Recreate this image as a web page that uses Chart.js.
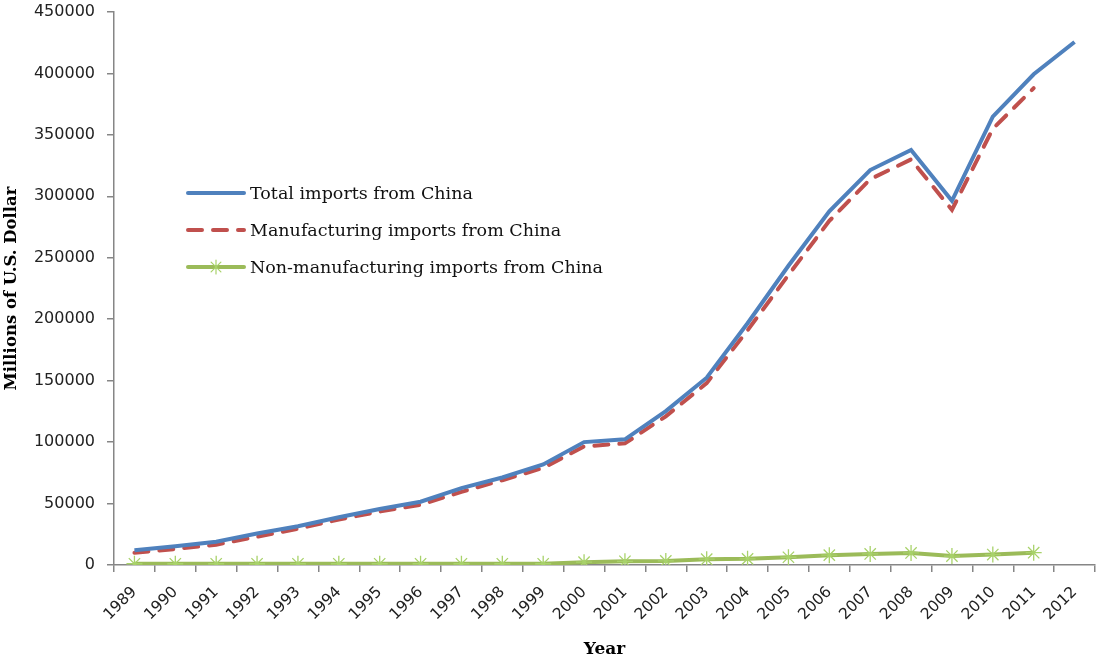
<!DOCTYPE html>
<html>
<head>
<meta charset="utf-8">
<script src="https://cdn.jsdelivr.net/npm/chart.js@4/dist/chart.umd.min.js"></script>
<style>
  html, body { margin: 0; padding: 0; background: #fff; }
  #wrap { width: 1099px; height: 660px; }
</style>
</head>
<body>
<div id="wrap"><canvas id="myChart"></canvas></div>
<script>
var years = ["1989","1990","1991","1992","1993","1994","1995","1996","1997","1998","1999","2000",
             "2001","2002","2003","2004","2005","2006","2007","2008","2009","2010","2011","2012"];

var totalImports = [12000, 15200, 19000, 25700, 31500, 38800, 45500, 51500, 62600, 71200, 81800, 100000,
                    102300, 125200, 152400, 196700, 243500, 287800, 321400, 337800, 296400, 364900, 399300, 425600];

var mfgImports = [10000, 13000, 16500, 23000, 29500, 37000, 43500, 49000, 59500, 69000, 79000, 96500,
                  99000, 121000, 148000, 191000, 236000, 280000, 314000, 330000, 289000, 355000, 388000, null];

var nonMfgImports = [1000, 1000, 1000, 1000, 1000, 1000, 1000, 1000, 1000, 1000, 1000, 2300,
                     3000, 3300, 4700, 5000, 6300, 8000, 9000, 9800, 7300, 8500, 10000, null];

var seriesNames = ["Total imports from China", "Manufacturing imports from China", "Non-manufacturing imports from China"];

// legend drawn inside the plot, left side
var insideLegend = {
  id: "insideLegend",
  afterDraw: function(chart) {
    var ctx = chart.ctx;
    var x0 = 188, y0 = 193, gap = 37;
    ctx.save();
    ctx.font = "17.5px 'DejaVu Serif'";
    ctx.textBaseline = "middle";
    chart.data.datasets.forEach(function(ds, i) {
      var y = y0 + i * gap;
      ctx.strokeStyle = ds.borderColor;
      ctx.lineWidth = 4;
      ctx.lineCap = "round";
      ctx.setLineDash(ds.borderDash || []);
      ctx.beginPath();
      ctx.moveTo(x0, y);
      ctx.lineTo(x0 + 56, y);
      ctx.stroke();
      ctx.setLineDash([]);
      if (ds.pointStyle === "star") {
        ctx.strokeStyle = ds.pointBorderColor;
        ctx.lineWidth = 1.2;
        var cx = x0 + 28, r = 7;
        ctx.beginPath();
        ctx.moveTo(cx, y - r); ctx.lineTo(cx, y + r);
        ctx.moveTo(cx - r * 0.7, y - r * 0.7); ctx.lineTo(cx + r * 0.7, y + r * 0.7);
        ctx.moveTo(cx - r * 0.7, y + r * 0.7); ctx.lineTo(cx + r * 0.7, y - r * 0.7);
        ctx.stroke();
      }
      ctx.fillStyle = "#111";
      ctx.fillText(ds.label, x0 + 62, y + 1);
    });
    ctx.restore();
  }
};

new Chart("myChart", {
  type: "line",
  data: {
    labels: years,
    datasets: [{
      label: seriesNames[0],
      data: totalImports,
      borderColor: "#4F81BD",
      borderWidth: 4,
      pointRadius: 0,
      fill: false
    }, {
      label: seriesNames[1],
      data: mfgImports,
      borderColor: "#C0504D",
      borderWidth: 4,
      borderDash: [14, 11],
      borderCapStyle: "round",
      pointRadius: 0,
      fill: false
    }, {
      label: seriesNames[2],
      data: nonMfgImports,
      borderColor: "#9BBB59",
      borderWidth: 4,
      pointStyle: "star",
      pointRadius: 8,
      pointBorderWidth: 1.3,
      pointBorderColor: "#A8D26A",
      pointBackgroundColor: "#A8D26A",
      fill: false
    }]
  },
  options: {
    responsive: true,
    maintainAspectRatio: false,
    animation: false,
    layout: { autoPadding: false, padding: { top: 12, right: 4, left: 0, bottom: 0 } },
    plugins: {
      legend: { display: false },
      tooltip: { enabled: false }
    },
    scales: {
      x: {
        offset: true,
        afterFit: function(scale) {
          scale.height = 95;
          scale.paddingRight = 0;
        },
        border: { color: "#868686", width: 1.5 },
        grid: { offset: true, drawOnChartArea: false, tickLength: 7, color: "#868686", lineWidth: 1.5 },
        ticks: {
          minRotation: 45,
          maxRotation: 45,
          padding: 11,
          color: "#222",
          font: { family: "'DejaVu Sans'", size: 15.5 }
        },
        title: {
          display: true,
          text: "Year",
          color: "#000",
          padding: { top: 4, bottom: 0 },
          font: { family: "'DejaVu Serif'", size: 17, weight: "bold" }
        }
      },
      y: {
        min: 0,
        max: 450000,
        afterFit: function(scale) {
          scale.width = 114;
          scale.paddingTop = 0;
          scale.paddingBottom = 0;
        },
        border: { color: "#868686", width: 1.5 },
        grid: { drawOnChartArea: false, tickLength: 7, color: "#868686", lineWidth: 1.5 },
        ticks: {
          stepSize: 50000,
          padding: 12,
          color: "#222",
          font: { family: "'DejaVu Sans'", size: 16 },
          callback: function(v) { return String(v); }
        },
        title: {
          display: true,
          text: "Millions of U.S. Dollar",
          color: "#000",
          padding: { top: 2, bottom: 0 },
          font: { family: "'DejaVu Serif'", size: 16.5, weight: "bold" }
        }
      }
    }
  },
  plugins: [insideLegend]
});
</script>
</body>
</html>
